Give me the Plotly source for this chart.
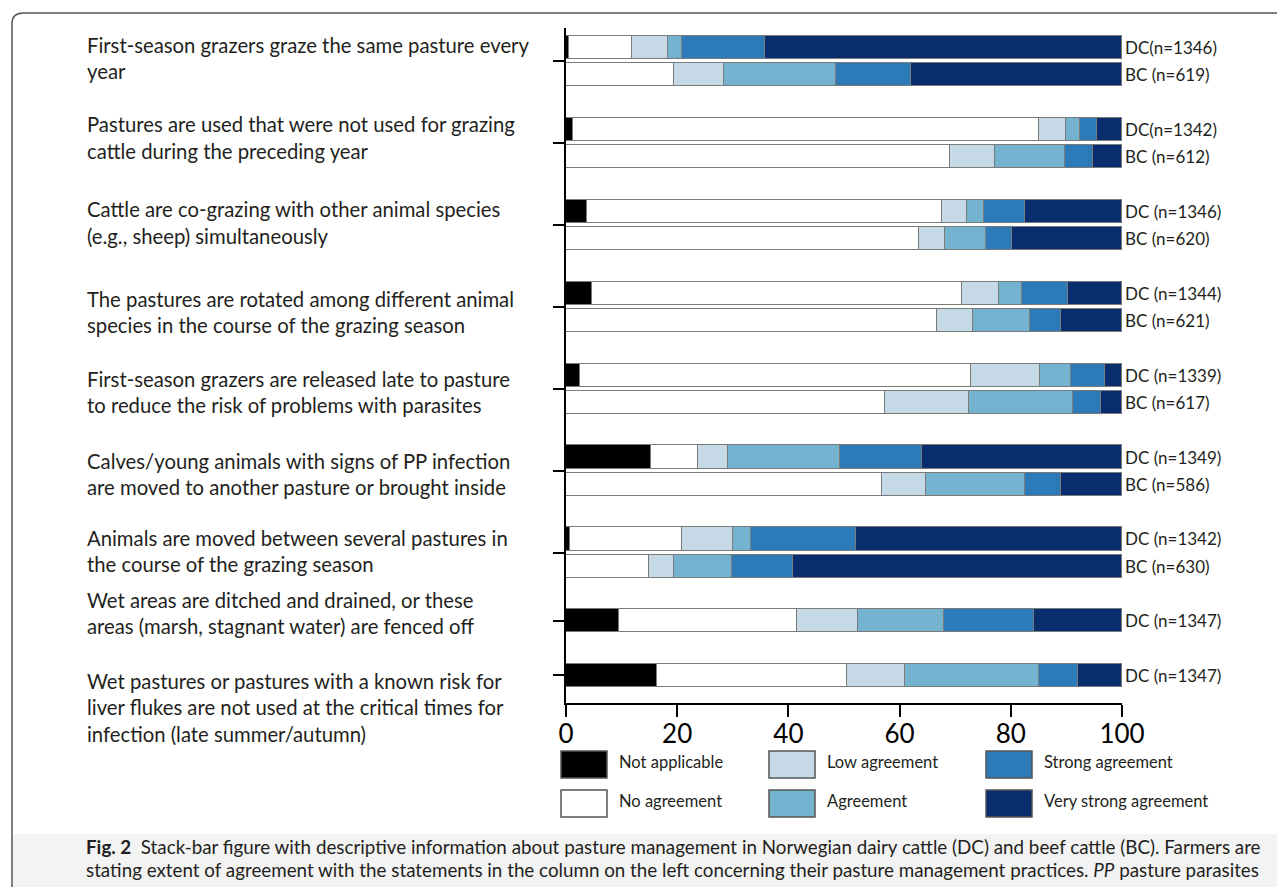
import plotly.graph_objects as go

# ---------------- data ----------------
statements = [
    ["First-season grazers graze the same pasture every", "year"],
    ["Pastures are used that were not used for grazing", "cattle during the preceding year"],
    ["Cattle are co-grazing with other animal species", "(e.g., sheep) simultaneously"],
    ["The pastures are rotated among different animal", "species in the course of the grazing season"],
    ["First-season grazers are released late to pasture", "to reduce the risk of problems with parasites"],
    ["Calves/young animals with signs of PP infection", "are moved to another pasture or brought inside"],
    ["Animals are moved between several pastures in", "the course of the grazing season"],
    ["Wet areas are ditched and drained, or these", "areas (marsh, stagnant water) are fenced off"],
    ["Wet pastures or pastures with a known risk for",
     "liver flukes are not used at the critical times for",
     "infection (late summer/autumn)"],
]
bars_per_statement = [2, 2, 2, 2, 2, 2, 2, 1, 1]

bar_labels = ["DC(n=1346)", "BC (n=619)", "DC(n=1342)", "BC (n=612)",
              "DC (n=1346)", "BC (n=620)", "DC (n=1344)", "BC (n=621)",
              "DC (n=1339)", "BC (n=617)", "DC (n=1349)", "BC (n=586)",
              "DC (n=1342)", "BC (n=630)", "DC (n=1347)", "DC (n=1347)"]

series_names = ["Not applicable", "No agreement", "Low agreement",
                "Agreement", "Strong agreement", "Very strong agreement"]

not_applicable = [0.6, 0, 1.2, 0, 3.7, 0, 4.6, 0, 2.5, 0, 15.3, 0, 0.8, 0, 9.5, 16.3]
no_agreement   = [11.3, 19.4, 83.9, 69.1, 64.0, 63.4, 66.7, 66.8, 70.4, 57.3, 8.5, 56.8, 20.0, 14.9, 32.0, 34.2]
low_agreement  = [6.5, 9.1, 4.9, 8.0, 4.5, 4.7, 6.5, 6.4, 12.3, 15.2, 5.4, 7.9, 9.2, 4.6, 11.1, 10.4]
agreement      = [2.4, 20.0, 2.5, 12.6, 3.0, 7.5, 4.2, 10.2, 5.6, 18.6, 20.1, 17.9, 3.3, 10.3, 15.3, 24.2]
strong_agr     = [15.0, 13.6, 3.0, 5.0, 7.4, 4.7, 8.3, 5.6, 6.2, 5.2, 14.7, 6.5, 18.8, 11.0, 16.3, 7.0]
very_strong    = [64.2, 37.9, 4.5, 5.3, 17.4, 19.7, 9.7, 11.0, 3.0, 3.7, 36.0, 10.9, 47.9, 59.2, 15.8, 7.9]

series_values = [not_applicable, no_agreement, low_agreement, agreement, strong_agr, very_strong]

x_ticks = [0, 20, 40, 60, 80, 100]

caption_line1 = ("<b>Fig. 2</b>\u00a0\u00a0Stack-bar figure with descriptive information about pasture management "
                 "in Norwegian dairy cattle (DC) and beef cattle (BC). Farmers are")
caption_line2 = ("stating extent of agreement with the statements in the column on the left concerning "
                 "their pasture management practices. <i>PP</i> pasture parasites")

# ---------------- styling ----------------
colors = ["#000000", "#ffffff", "#c6d9e7", "#74b3cf", "#2c7ab8", "#0a2e6d"]
FONT = "Lato, 'Open Sans', sans-serif"
TXT = "#231f20"
W, H = 1285, 887          # screen size
OFF = 8                   # page body margin
L, R, T, B = 566, 1122, 28, 703   # plot area in screen pixels

# slot layout: each statement takes its bars + one empty slot
bar_slots, group_centers = [], []
s = 0
for n in bars_per_statement:
    group_centers.append(s + (n - 1) / 2)
    for k in range(n):
        bar_slots.append(s + k)
    s += n + 1

first_center = 47.5
pitch = 27.3          # pixels per slot
y_top = -(first_center - T) / pitch
y_bot = (B - first_center) / pitch

def pxx(p):
    return (p - L) / (R - L)

def pxy(p):
    return (B - p) / (B - T)

fig = go.Figure()
for name, vals, col in zip(series_names, series_values, colors):
    fig.add_trace(go.Bar(
        x=vals, y=bar_slots, orientation="h", name=name,
        marker=dict(color=col, line=dict(color="#7a7a7a", width=1)),
        width=0.85, showlegend=False, hoverinfo="x+name",
    ))

annotations = []
for lab, ys in zip(bar_labels, bar_slots):
    annotations.append(dict(x=100, y=ys, xref="x", yref="y", text=lab, showarrow=False,
                            xanchor="left", yanchor="middle", xshift=1,
                            font=dict(family=FONT, size=17, color=TXT)))

label_center_px = [58, 137.5, 222.5, 312, 392, 474, 551, 613, 707]
line_gap = 26.5
for lines, cy in zip(statements, label_center_px):
    n = len(lines)
    for i, ln in enumerate(lines):
        py = cy + (i - (n - 1) / 2) * line_gap
        annotations.append(dict(x=pxx(85), y=pxy(py), xref="paper", yref="paper", text=ln,
                                showarrow=False, xanchor="left", yanchor="middle",
                                font=dict(family=FONT, size=20.3, color=TXT)))

shapes = []
col_left = [561, 769, 986]
row_top = [751, 790]
for i, (name, col) in enumerate(zip(series_names, colors)):
    c, r = i // 2, i % 2
    x0, y0 = col_left[c], row_top[r]
    shapes.append(dict(type="rect", xref="paper", yref="paper",
                       x0=pxx(x0), x1=pxx(x0 + 46), y0=pxy(y0), y1=pxy(y0 + 27),
                       fillcolor=col, line=dict(color="#555555", width=1.5)))
    annotations.append(dict(x=pxx(x0 + 56), y=pxy(y0 + 11), xref="paper", yref="paper", text=name,
                            showarrow=False, xanchor="left", yanchor="middle",
                            font=dict(family=FONT, size=16.5, color=TXT)))

shapes.append(dict(type="rect", xref="paper", yref="paper", layer="below",
                   x0=pxx(13), x1=pxx(W + 5), y0=pxy(834), y1=pxy(H + 5),
                   fillcolor="#f3f3f3", line=dict(width=0)))
fx0, fy0, rad = 12, 13, 11
path = (f"M {pxx(W + 5)},{pxy(fy0)} L {pxx(fx0 + rad)},{pxy(fy0)} "
        f"Q {pxx(fx0)},{pxy(fy0)} {pxx(fx0)},{pxy(fy0 + rad)} L {pxx(fx0)},{pxy(H + 5)}")
shapes.append(dict(type="path", xref="paper", yref="paper", path=path,
                   line=dict(color="#555555", width=1.5)))

for txt, py in ((caption_line1, 846), (caption_line2, 869)):
    annotations.append(dict(x=pxx(84), y=pxy(py), xref="paper", yref="paper", text=txt,
                            showarrow=False, xanchor="left", yanchor="middle",
                            font=dict(family=FONT, size=18.8, color=TXT)))

fig.update_layout(
    width=W - OFF, height=H - OFF, barmode="stack", bargap=0,
    margin=dict(l=L - OFF, r=W - R, t=T - OFF, b=H - B, pad=0),
    paper_bgcolor="white", plot_bgcolor="white",
    xaxis=dict(range=[0, 100], tickvals=x_ticks, ticktext=[str(v) for v in x_ticks],
               showline=True, linecolor="black", linewidth=2, ticks="outside",
               ticklen=12, tickwidth=2, tickcolor="black", showgrid=False, zeroline=False,
               ticklabelstandoff=-5,
               tickfont=dict(family=FONT, size=26, color="black")),
    yaxis=dict(range=[y_bot, y_top], tickvals=group_centers, showticklabels=False,
               showline=True, linecolor="black", linewidth=2, ticks="outside",
               ticklen=11, tickwidth=2, tickcolor="black", showgrid=False, zeroline=False),
    annotations=annotations, shapes=shapes, showlegend=False,
)

fig.write_html("out.html")
